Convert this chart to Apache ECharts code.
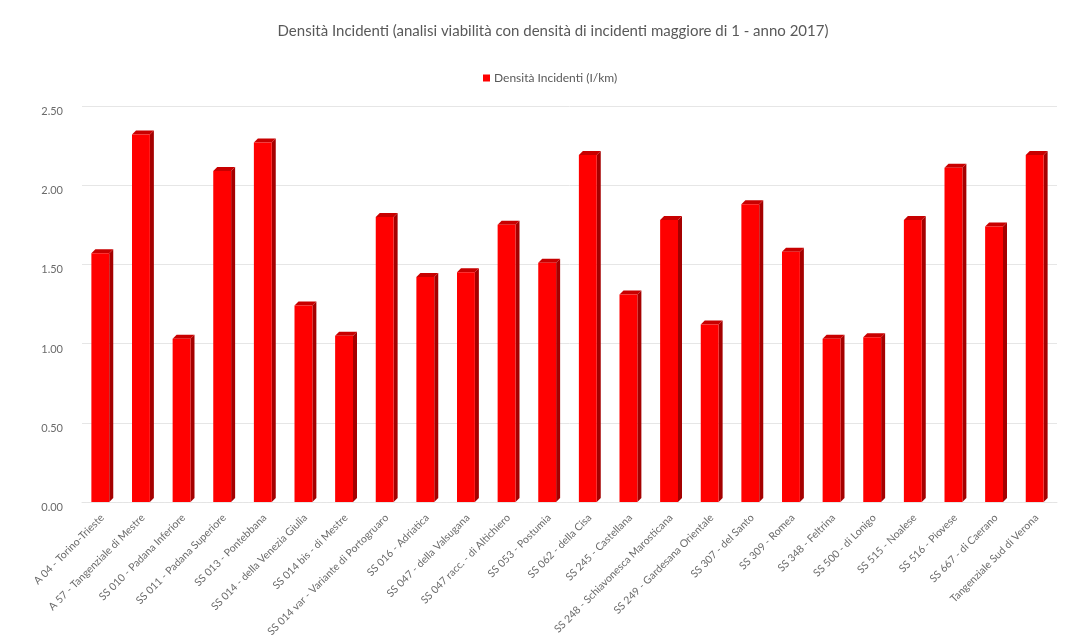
<!DOCTYPE html>
<html>
<head>
<meta charset="utf-8">
<script src="https://cdn.jsdelivr.net/npm/echarts@6/dist/echarts.min.js"></script>
<style>
html,body{margin:0;padding:0;background:#fff;}
#chart{width:1072px;height:644px;}
</style>
</head>
<body>
<div id="chart"></div>
<script>
const categories = [
  "A 04 - Torino-Trieste",
  "A 57 - Tangenziale di Mestre",
  "SS 010 - Padana Inferiore",
  "SS 011 - Padana Superiore",
  "SS 013 - Pontebbana",
  "SS 014 - della Venezia Giulia",
  "SS 014 bis - di Mestre",
  "SS 014 var - Variante di Portogruaro",
  "SS 016 - Adriatica",
  "SS 047 - della Valsugana",
  "SS 047 racc. - di Altichiero",
  "SS 053 - Postumia",
  "SS 062 - della Cisa",
  "SS 245 - Castellana",
  "SS 248 - Schiavonesca Marosticana",
  "SS 249 - Gardesana Orientale",
  "SS 307 - del Santo",
  "SS 309 - Romea",
  "SS 348 - Feltrina",
  "SS 500 - di Lonigo",
  "SS 515 - Noalese",
  "SS 516 - Piovese",
  "SS 667 - di Caerano",
  "Tangenziale Sud di Verona"
];
const densita = [1.57, 2.32, 1.03, 2.09, 2.27, 1.24, 1.05, 1.80, 1.42, 1.45, 1.75, 1.51,
                 2.19, 1.31, 1.78, 1.12, 1.88, 1.58, 1.03, 1.04, 1.78, 2.11, 1.74, 2.19];
const seriesName = "Densità Incidenti (I/km)";
const titleText = "Densità Incidenti (analisi viabilità con densità di incidenti maggiore di 1 - anno 2017)";
const yTicks = { min: 0, max: 2.5, interval: 0.5 };

const chart = echarts.init(document.getElementById('chart'));
const FONT = 'Lato, "Open Sans", sans-serif';

function renderBar(params, api) {
  const idx = api.value(0);
  const val = api.value(1);
  const top = api.coord([idx, val]);
  const base = api.coord([idx, 0]);
  const band = api.size([1, 0])[0];
  const w = band * 0.44;
  const dx = 4, dy = 4;
  const x0 = top[0] - w / 2 - dx / 2;
  const x1 = x0 + w;
  const yT = top[1];
  const yB = base[1];
  return {
    type: 'group',
    children: [
      { type: 'polygon', shape: { points: [[x1, yT], [x1 + dx, yT - dy], [x1 + dx, yB - dy], [x1, yB]] },
        style: { fill: '#a50000' } },
      { type: 'polygon', shape: { points: [[x0, yT], [x0 + dx, yT - dy], [x1 + dx, yT - dy], [x1, yT]] },
        style: { fill: '#c80000' } },
      { type: 'rect', shape: { x: x0, y: yT, width: w, height: yB - yT },
        style: { fill: '#ff0000' } }
    ]
  };
}

chart.setOption({
  backgroundColor: '#ffffff',
  animation: false,
  title: {
    text: titleText,
    left: 548,
    textAlign: 'center',
    top: 19,
    textStyle: { fontFamily: FONT, fontSize: 15, fontWeight: 'normal', color: '#595959' }
  },
  legend: {
    top: 67,
    left: 478,
    icon: 'rect',
    itemWidth: 7,
    itemHeight: 7,
    itemGap: 4,
    data: [{ name: seriesName, itemStyle: { color: '#ff0000' } }],
    textStyle: { fontFamily: FONT, fontSize: 12, color: '#595959', padding: [0, 0, 0, -1] }
  },
  grid: { left: 82, right: 15, top: 106, bottom: 142 },
  xAxis: {
    type: 'category',
    data: categories,
    axisLine: { show: true, lineStyle: { color: '#e4e4e4', type: 'dashed' } },
    axisTick: { show: false },
    axisLabel: {
      interval: 0,
      rotate: 45,
      margin: 14,
      fontFamily: FONT,
      fontSize: 10.5,
      color: '#6b6b6b'
    }
  },
  yAxis: {
    type: 'value',
    min: yTicks.min,
    max: yTicks.max,
    interval: yTicks.interval,
    axisLine: { show: false },
    axisTick: { show: false },
    splitLine: { lineStyle: { color: '#e6e6e6' } },
    axisLabel: {
      formatter: v => v.toFixed(2),
      margin: 19,
      verticalAlign: 'top',
      fontFamily: FONT,
      fontSize: 11,
      color: '#6b6b6b'
    }
  },
  series: [{
    name: seriesName,
    type: 'custom',
    color: '#ff0000',
    itemStyle: { color: '#ff0000' },
    renderItem: renderBar,
    encode: { x: 0, y: 1 },
    data: densita.map((v, i) => [i, v])
  }]
});
</script>
</body>
</html>
